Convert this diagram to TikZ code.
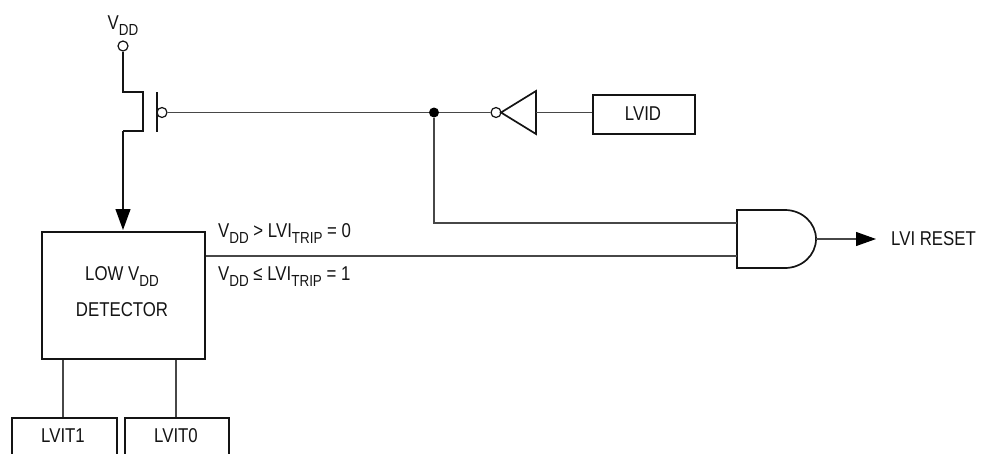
\documentclass[tikz,border=0pt]{standalone}
\usepackage{fontspec}
\setmainfont[FakeStretch=0.84]{Liberation Sans}
\usetikzlibrary{arrows.meta,calc}
\definecolor{ink}{gray}{0.08}
\definecolor{wire}{gray}{0.28}
\newcommand{\subs}[1]{\raisebox{-0.3em}{\fontsize{16}{17}\selectfont #1}}
\tikzset{
  x=1pt,y=-1pt,
  every node/.style={font=\fontsize{20}{22}\selectfont,text=ink,inner sep=0pt},
  blockbox/.style={draw=ink,line width=2pt,fill=white,rectangle,anchor=north west},
  gateline/.style={draw=ink,line width=1.7pt},
  wireline/.style={draw=wire,line width=1.1pt},
  bubble/.style={circle,draw=ink,line width=1.2pt,fill=white,minimum size=10pt},
  arrowline/.style={wireline,-{Triangle[length=21pt,width=15pt,color=black]}},
  junction/.style={circle,fill=black,minimum size=10pt}
}
\begin{document}
\begin{tikzpicture}
\useasboundingbox (0,0) rectangle (981,453);
\clip (0,0) rectangle (981,453);
% boxes
\node[blockbox,minimum width=163pt,minimum height=127pt] (det) at (41,231) {};
\node[anchor=center] (dettext1) at (122,277) {LOW V\subs{DD}};
\node[anchor=center] (dettext2) at (122,310) {DETECTOR};
\node[blockbox,minimum width=102pt,minimum height=39pt] (lvid) at (592,94) {};
\node (lvidt) at (643,113.5) {LVID};
\node[blockbox,minimum width=105pt,minimum height=50pt] (lvit1) at (11,417) {};
\node[anchor=center] (lvit1t) at (63,436) {LVIT1};
\node[blockbox,minimum width=104pt,minimum height=50pt] (lvit0) at (124,417) {};
\node[anchor=center] (lvit0t) at (176,436) {LVIT0};
% supply and transistor
\node (vdd) at (123,26) {V\subs{DD}};
\node[bubble] (vddpin) at (123,46) {};
\coordinate (srcin) at (123,92);
\coordinate (srcout) at (143,92);
\coordinate (drnout) at (143,131);
\coordinate (drnin) at (123,131);
\coordinate (detin) at (123,230);
\draw[draw=ink,line width=1.2pt] (vddpin) -- (srcin) -- (srcout) -- (drnout) -- (drnin);
\draw[arrowline,draw=ink,line width=1.2pt] (drnin) -- (detin);
\coordinate (bartop) at (157,92);
\coordinate (barbot) at (157,132);
\draw[draw=ink,line width=1.2pt] (bartop) -- (barbot);
\node[bubble] (gatebub) at (162,112.5) {};
% inverter
\node[junction] (dot) at (434,112.5) {};
\node[bubble] (invbub) at (496,112.5) {};
\coordinate (invtip) at (501,112.5);
\coordinate (invtop) at (536,91);
\coordinate (invbot) at (536,134);
\coordinate (invin) at (536,112.5);
\draw[gateline,line join=miter] (invtip) -- (invtop) -- (invbot) -- cycle;
\draw[wireline] (gatebub) -- (dot);
\draw[wireline] (dot) -- (invbub);
\draw[wireline] (invin) -- (invin -| lvid.west);
% AND gate
\coordinate (andnw) at (737,210);
\coordinate (andsw) at (737,268);
\coordinate (andin1) at (737,223);
\coordinate (andin2) at (737,256);
\coordinate (andout) at (816,239);
\coordinate (outtip) at (876,239);
\draw[gateline] (andnw) -- (785,210) arc[start angle=-90,end angle=90,x radius=31,y radius=29] -- (andsw) -- cycle;
\draw[wireline] (dot) |- (andin1);
\draw[wireline] (det.east |- andin2) -- (andin2);
\draw[wireline,-{Triangle[length=20pt,width=14pt,color=black]}] (andout) -- (outtip);
\node[anchor=west] (lvireset) at (891,239) {LVI RESET};
% labels
\node[anchor=west] (l1) at (218,233.5) {V\subs{DD} > LVI\subs{TRIP} = 0};
\node[anchor=west] (l2) at (218,276.5) {V\subs{DD} ≤ LVI\subs{TRIP} = 1};
% detector inputs
\draw[wireline] (lvit1.north -| lvit1t) -- (det.south -| lvit1t);
\draw[wireline] (lvit0.north -| lvit0t) -- (det.south -| lvit0t);
\end{tikzpicture}
\end{document}
